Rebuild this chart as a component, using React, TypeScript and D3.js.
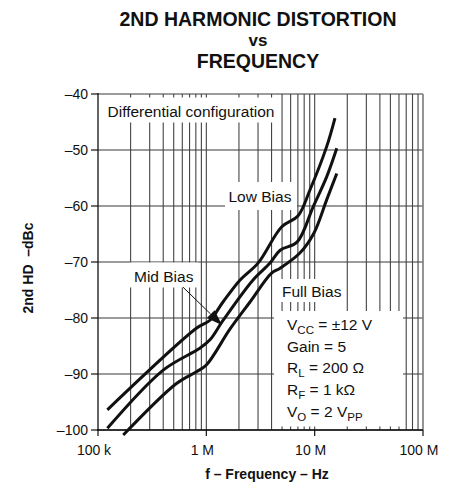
import React from 'react';
import * as d3 from 'd3';

const TITLE_LINES = ['2ND HARMONIC DISTORTION', 'vs', 'FREQUENCY'];
const X_TICKS = [1e5, 1e6, 1e7, 1e8];
const X_TICK_LABELS = ['100 k', '1 M', '10 M', '100 M'];
const Y_TICKS = [-40, -50, -60, -70, -80, -90, -100];
const Y_TICK_LABELS = ['–40', '–50', '–60', '–70', '–80', '–90', '–100'];
const X_TITLE = 'f – Frequency – Hz';
const Y_TITLE = '2nd HD  –dBc';

// Low Bias (top curve)
const LOW_F = [1.22e5, 8.15e5, 1.08e6, 1.43e6, 2.05e6, 3.0e6, 4.97e6, 7.0e6, 9.06e6, 12.9e6, 15.4e6];
const LOW_DB = [-96.4, -81.8, -80.4, -77.1, -73.2, -70.2, -63.7, -61.8, -57.1, -49.4, -44.3];
// Mid Bias (middle curve)
const MID_F = [1.22e5, 4.0e5, 8.7e5, 1.08e6, 1.43e6, 2.7e6, 3.87e6, 4.8e6, 6.9e6, 9.7e6, 12.9e6, 16e6];
const MID_DB = [-99.7, -89.3, -85.4, -83.9, -80.4, -73.2, -70.2, -67.9, -66.4, -60.1, -54.8, -49.7];
// Full Bias (bottom curve)
const FULL_F = [1.71e5, 5.3e5, 8.1e5, 1.0e6, 1.65e6, 2.54e6, 4.0e6, 4.8e6, 7.3e6, 9.8e6, 12.9e6, 16e6];
const FULL_DB = [-100.9, -91.7, -89.6, -88.4, -82.0, -77.1, -72.0, -71.1, -68.4, -64.9, -58.9, -54.2];

const SERIES = [
  { f: LOW_F, db: LOW_DB },
  { f: MID_F, db: MID_DB },
  { f: FULL_F, db: FULL_DB },
];

// Mid Bias arrow (data coords): start -> tip
const ARROW_F = [6.1e5, 1.4e6];
const ARROW_DB = [-74.5, -81.3];

const FONT = '"Liberation Sans", Arial, Helvetica, sans-serif';

export default function App() {
  const W = 451, H = 487;
  const x = d3.scaleLog().domain([1e5, 1e8]).range([98, 423]);
  const y = d3.scaleLinear().domain([-100, -40]).range([430, 94]);

  const minor: number[] = [];
  [1e5, 1e6, 1e7].forEach((d) => {
    for (let k = 2; k <= 9; k++) minor.push(k * d);
  });

  const line = d3
    .line<[number, number]>()
    .x((p) => x(p[0]))
    .y((p) => y(p[1]))
    .curve(d3.curveCatmullRom.alpha(0.5));

  const ax0 = x(ARROW_F[0]), ay0 = y(ARROW_DB[0]);
  const ax1 = x(ARROW_F[1]), ay1 = y(ARROW_DB[1]);
  const ang = Math.atan2(ay1 - ay0, ax1 - ax0);
  const hl = 16, hw = 5.5;
  const bx = ax1 - hl * Math.cos(ang), by = ay1 - hl * Math.sin(ang);
  const head = [
    [ax1, ay1],
    [bx + hw * Math.sin(ang), by - hw * Math.cos(ang)],
    [bx - hw * Math.sin(ang), by + hw * Math.cos(ang)],
  ];

  const textStyle = { fontFamily: FONT, fill: '#111' } as const;
  const annSize = 15.5;

  return (
    <svg
      width={W}
      height={H}
      style={{ position: 'absolute', left: 0, top: 0, background: '#fff' }}
    >
      <rect x={0} y={0} width={W} height={H} fill="#fff" />
      {/* title */}
      <g style={textStyle} fontWeight="bold" textAnchor="middle">
        <text x={258} y={26} fontSize={19.5}>{TITLE_LINES[0]}</text>
        <text x={258} y={46} fontSize={17}>{TITLE_LINES[1]}</text>
        <text x={258} y={68} fontSize={19.5}>{TITLE_LINES[2]}</text>
      </g>

      {/* horizontal gridlines */}
      {Y_TICKS.map((v) => (
        <line key={'h' + v} x1={98} x2={423} y1={y(v)} y2={y(v)} stroke="#7a7a7a" strokeWidth={1.6} />
      ))}
      {/* vertical gridlines */}
      {minor.concat([1e6, 1e7]).map((f) => (
        <line key={'v' + f} x1={x(f)} x2={x(f)} y1={94} y2={430} stroke="#444" strokeWidth={1.1} />
      ))}
      {/* right frame */}
      <line x1={423} x2={423} y1={94} y2={430} stroke="#7a7a7a" strokeWidth={1.6} />

      {/* label boxes */}
      <rect x={99.5} y={97.5} width={179.5} height={25} fill="#fff" />
      <rect x={225} y={182} width={72} height={28} fill="#fff" />
      <rect x={130} y={262.5} width={68} height={25} fill="#fff" />
      <rect x={278} y={279} width={68} height={23} fill="#fff" />
      <rect x={274} y={311} width={129} height={115.5} fill="#fff" />

      {/* axes */}
      <line x1={98} x2={98} y1={93} y2={431} stroke="#111" strokeWidth={1.3} />
      <line x1={97} x2={423} y1={430} y2={430} stroke="#111" strokeWidth={1.3} />
      {Y_TICKS.map((v) => (
        <line key={'yt' + v} x1={91} x2={98} y1={y(v)} y2={y(v)} stroke="#111" strokeWidth={1.2} />
      ))}
      {X_TICKS.map((f) => (
        <line key={'xt' + f} x1={x(f)} x2={x(f)} y1={430} y2={436} stroke="#111" strokeWidth={1.2} />
      ))}

      {/* tick labels */}
      <g style={textStyle} fontSize={14}>
        {Y_TICKS.map((v, i) => (
          <text key={'yl' + v} x={88} y={y(v) + 5} textAnchor="end">{Y_TICK_LABELS[i]}</text>
        ))}
        {X_TICKS.map((f, i) => (
          <text key={'xl' + f} x={x(f) - 4} y={455} textAnchor="middle">{X_TICK_LABELS[i]}</text>
        ))}
      </g>

      {/* axis titles */}
      <text style={textStyle} fontSize={14} fontWeight="bold" x={267} y={479} textAnchor="middle">{X_TITLE}</text>
      <text
        style={textStyle}
        fontSize={14}
        fontWeight="bold"
        transform="translate(33,268) rotate(-90)"
        textAnchor="middle"
        xmlSpace="preserve"
      >
        {Y_TITLE}
      </text>

      {/* curves */}
      {SERIES.map((s, i) => (
        <path
          key={'c' + i}
          d={line(s.f.map((f, j) => [f, s.db[j]] as [number, number])) || ''}
          fill="none"
          stroke="#111"
          strokeWidth={3}
          strokeLinecap="butt"
          strokeLinejoin="round"
        />
      ))}

      {/* arrow */}
      <line x1={ax0} y1={ay0} x2={bx} y2={by} stroke="#111" strokeWidth={1} />
      <polygon points={head.map((p) => p.join(',')).join(' ')} fill="#111" />

      {/* annotations */}
      <g style={textStyle} fontSize={annSize}>
        <text x={107.5} y={117}>Differential configuration</text>
        <text x={228.5} y={202}>Low Bias</text>
        <text x={134} y={282}>Mid Bias</text>
        <text x={282} y={297}>Full Bias</text>
        <text x={287} y={330}>
          V<tspan fontSize={11.5} dy={4}>CC</tspan>
          <tspan dy={-4}> = ±12 V</tspan>
        </text>
        <text x={287} y={352}>Gain = 5</text>
        <text x={287} y={373}>
          R<tspan fontSize={11.5} dy={4}>L</tspan>
          <tspan dy={-4}> = 200 Ω</tspan>
        </text>
        <text x={287} y={395}>
          R<tspan fontSize={11.5} dy={4}>F</tspan>
          <tspan dy={-4}> = 1 kΩ</tspan>
        </text>
        <text x={287} y={417}>
          V<tspan fontSize={11.5} dy={4}>O</tspan>
          <tspan dy={-4}> = 2 V</tspan>
          <tspan fontSize={11.5} dy={4}>PP</tspan>
        </text>
      </g>
    </svg>
  );
}
